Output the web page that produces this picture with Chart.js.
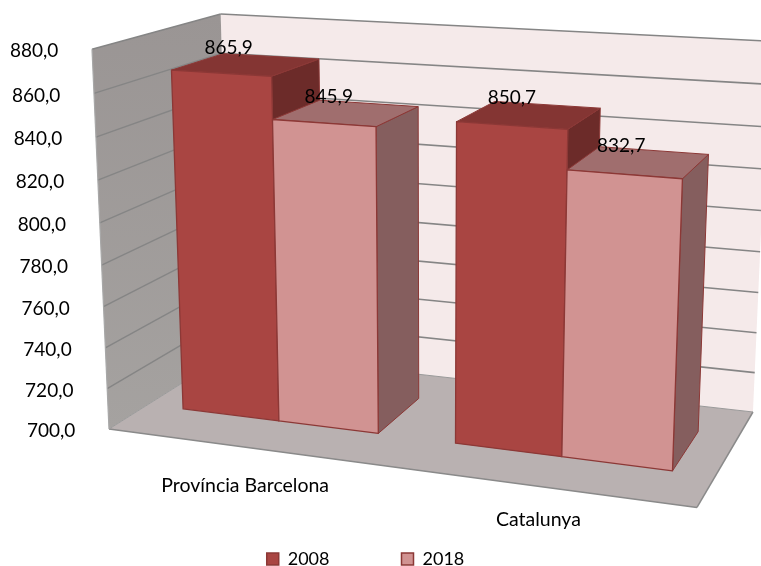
<!DOCTYPE html>
<html>
<head>
<meta charset="utf-8">
<style>html,body{margin:0;padding:0;background:#fff;overflow:hidden}canvas{display:block}</style>
<script src="https://cdn.jsdelivr.net/npm/chart.js@4/dist/chart.umd.min.js"></script>
</head>
<body>
<canvas id="c" width="761" height="566"></canvas>
<script>
const categories = ["Província Barcelona", "Catalunya"];
const series2008 = [865.9, 850.7];
const series2018 = [845.9, 832.7];
const seriesNames = ["2008", "2018"];
const axisMin = 700, axisMax = 880, axisStep = 20;

const fmt = v => Number(v).toFixed(1).replace('.', ',');

// Perspective camera: x across the box, f up the value axis, z into the depth (all 0..1)
function project(x, f, z) {
  const w = 1 - 0.1195 * x - 0.05 * f + 0.1371 * z;
  const X = 504.7 * x - 21.6 * f + 152.5 * z + 109 + 9 * x * (1 - x);
  const Y = 17.85 * x - 382.2 * f - 27.6 * z + 429 + 6.75 * x * f - 4 * f * z;
  return [X / w, Y / w];
}
const Z_FRONT = 0.295, Z_BACK = 0.715;

const faceStyles = [
  { front: '#A94542', top: '#843533', side: '#6C2B29', edge: '#8C3836' },
  { front: '#D19392', top: '#A06E6E', side: '#855E5E', edge: '#8C3836' }
];

function poly(ctx, pts, fill, stroke, lw) {
  ctx.beginPath();
  pts.forEach((p, i) => i ? ctx.lineTo(p[0], p[1]) : ctx.moveTo(p[0], p[1]));
  ctx.closePath();
  if (fill) { ctx.fillStyle = fill; ctx.fill(); }
  if (stroke) { ctx.strokeStyle = stroke; ctx.lineWidth = lw; ctx.lineJoin = 'round'; ctx.stroke(); }
}
function line(ctx, a, b, color, lw) {
  ctx.beginPath(); ctx.moveTo(a[0], a[1]); ctx.lineTo(b[0], b[1]);
  ctx.strokeStyle = color; ctx.lineWidth = lw; ctx.stroke();
}

const scene3d = {
  id: 'scene3d',
  afterLayout(chart) {
    // legend row sits close to the bottom edge of the page
    const lg = chart.legend;
    const h = lg.bottom - lg.top;
    lg.top = 478; lg.bottom = 478 + h;
    lg.left = 0; lg.right = 731;
  },
  beforeDatasetsDraw(chart) {
    const ctx = chart.ctx, a = chart.chartArea, yS = chart.scales.y;
    const fy = px => (a.bottom - px) / (a.bottom - a.top);
    const fx = px => (px - a.left) / (a.right - a.left);
    ctx.save();
    // back wall
    poly(ctx, [project(0,0,1), project(1,0,1), project(1,1,1), project(0,1,1)], '#F5EAEA');
    // left wall
    const g = ctx.createLinearGradient(0, 14, 0, 430);
    g.addColorStop(0, '#9A9594'); g.addColorStop(1, '#A5A2A0');
    poly(ctx, [project(0,0,0), project(0,0,1), project(0,1,1), project(0,1,0)], g);
    // floor
    poly(ctx, [project(0,0,0), project(1,0,0), project(1,0,1), project(0,0,1)], '#B9B1B1');
    // gridlines from the value scale
    yS.ticks.forEach(t => {
      const f = fy(yS.getPixelForValue(t.value));
      if (f <= 0) return;
      line(ctx, project(0,f,0), project(0,f,1), '#858585', 1.4);
      line(ctx, project(0,f,1), project(1,f,1), '#858585', 1.6);
    });
    // box edges
    line(ctx, project(0,0,0), project(1,0,0), '#8A8A8A', 1.5);
    line(ctx, project(1,0,0), project(1,0,1), '#8A8A8A', 1.5);
    line(ctx, project(0,0,1), project(1,0,1), '#9A9A9A', 1);
    line(ctx, project(0,0,0), project(0,0,1), '#9A9A9A', 1);
    line(ctx, project(0,0,0), project(0,1,0), '#A8A8A8', 1.2);
    // bars, painted left to right
    const n = chart.data.labels.length;
    for (let j = 0; j < n; j++) {
      chart.data.datasets.forEach((ds, i) => {
        const el = chart.getDatasetMeta(i).data[j];
        const st = faceStyles[i];
        const x0 = fx(el.x - el.width / 2), x1 = fx(el.x + el.width / 2);
        const f0 = Math.max(0, fy(el.base)), f1 = fy(el.y);
        const zf = Z_FRONT, zb = Z_BACK;
        poly(ctx, [project(x1,f0,zf), project(x1,f0,zb), project(x1,f1,zb), project(x1,f1,zf)], st.side, st.edge, 1);
        poly(ctx, [project(x0,f1,zf), project(x1,f1,zf), project(x1,f1,zb), project(x0,f1,zb)], st.top, st.edge, 1);
        poly(ctx, [project(x0,f0,zf), project(x1,f0,zf), project(x1,f1,zf), project(x0,f1,zf)], st.front, st.edge, 1.3);
      });
    }
    ctx.restore();
    return false; // native flat bars are replaced by the projected ones
  },
  afterDraw(chart) {
    const ctx = chart.ctx, a = chart.chartArea, yS = chart.scales.y, xS = chart.scales.x;
    const fy = px => (a.bottom - px) / (a.bottom - a.top);
    const fx = px => (px - a.left) / (a.right - a.left);
    ctx.save();
    ctx.fillStyle = '#000';
    ctx.textBaseline = 'middle';
    // value axis labels follow the slanted front edge
    ctx.font = '19px Lato';
    ctx.textAlign = 'right';
    yS.ticks.forEach(t => {
      const p = project(0, fy(yS.getPixelForValue(t.value)), 0);
      ctx.fillText(t.label, p[0] - 33.7, p[1] + 2);
    });
    // category labels below the front floor edge
    ctx.font = '19.5px Lato';
    ctx.textAlign = 'center';
    xS.ticks.forEach((t, i) => {
      const x = fx(xS.getPixelForTick(i));
      const p = project(x, 0, 0);
      ctx.fillText(chart.data.labels[t.value], p[0] + 1, p[1] + 41.5 - 10 * x);
    });
    // data labels
    ctx.font = '19px Lato';
    chart.data.datasets.forEach((ds, i) => {
      chart.getDatasetMeta(i).data.forEach((el, j) => {
        const p = project(fx(el.x), fy(el.y), (Z_FRONT + Z_BACK) / 2);
        ctx.fillText(fmt(ds.data[j]), p[0] - 18, p[1] - 16.5);
      });
    });
    ctx.restore();
  }
};

new Chart(document.getElementById('c'), {
  type: 'bar',
  data: {
    labels: categories,
    datasets: [
      { label: seriesNames[0], data: series2008, backgroundColor: faceStyles[0].front, borderColor: faceStyles[0].edge, borderWidth: 1.5 },
      { label: seriesNames[1], data: series2018, backgroundColor: faceStyles[1].front, borderColor: faceStyles[1].edge, borderWidth: 1.5 }
    ]
  },
  options: {
    responsive: false,
    animation: false,
    datasets: { bar: { categoryPercentage: 0.727, barPercentage: 1 } },
    scales: {
      x: { display: false },
      y: {
        display: false, min: axisMin, max: axisMax,
        ticks: { stepSize: axisStep, callback: v => fmt(v) }
      }
    },
    plugins: {
      tooltip: { enabled: false },
      legend: {
        position: 'bottom',
        labels: { boxWidth: 12, boxHeight: 12, padding: 72, color: '#000', font: { family: 'Lato', size: 18 } }
      }
    }
  },
  plugins: [scene3d]
});
</script>
</body>
</html>
